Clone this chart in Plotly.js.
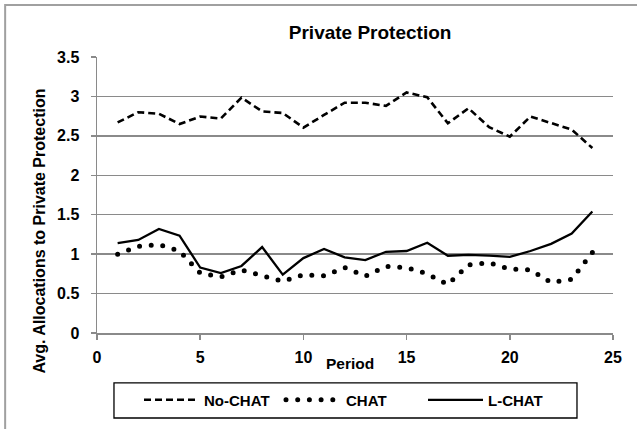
<!DOCTYPE html>
<html>
<head>
<meta charset="utf-8">
<script src="https://cdn.plot.ly/plotly-3.0.1.min.js"></script>
<style>
html,body{margin:0;padding:0;background:#fff;}
#chart{width:637px;height:429px;}
</style>
</head>
<body>
<div id="chart"></div>
<script>
const periods = [1,2,3,4,5,6,7,8,9,10,11,12,13,14,15,16,17,18,19,20,21,22,23,24];
const noChat = [2.67,2.80,2.78,2.65,2.745,2.72,2.985,2.81,2.79,2.605,2.765,2.92,2.92,2.88,3.05,2.99,2.66,2.85,2.61,2.49,2.745,2.66,2.58,2.345];
const chat = [1.00,1.10,1.12,1.04,0.76,0.71,0.80,0.73,0.655,0.74,0.725,0.83,0.72,0.845,0.83,0.75,0.615,0.865,0.89,0.81,0.80,0.64,0.68,1.02];
const lChat = [1.14,1.18,1.32,1.235,0.83,0.76,0.85,1.09,0.74,0.95,1.065,0.96,0.925,1.03,1.04,1.145,0.98,0.99,0.98,0.965,1.04,1.13,1.26,1.54];
const seriesNames = ['No-CHAT','CHAT','L-CHAT'];
const yTickVals = [0,0.5,1,1.5,2,2.5,3,3.5];
const yTickText = ['0','0.5','1','1.5','2','2.5','3','3.5'];
const xTickVals = [0,5,10,15,20,25];
const xTickText = ['0','5','10','15','20','25'];

const FONT = '"Liberation Sans", Arial, sans-serif';
const GRID = '#8a8a8a';

const traces = [
  {x: periods, y: noChat, name: seriesNames[0], mode: 'lines', type: 'scatter',
   line: {color: '#000', width: 2.6, dash: '7px,4px'}},
  {x: periods, y: chat, name: seriesNames[1], mode: 'lines', type: 'scatter',
   line: {color: '#000', width: 5, dash: '0px,11.7px'}},
  {x: periods, y: lChat, name: seriesNames[2], mode: 'lines', type: 'scatter',
   line: {color: '#000', width: 2.3}}
];

const layout = {
  width: 637, height: 429,
  margin: {l: 97, r: 24, t: 57, b: 96},
  paper_bgcolor: '#fff', plot_bgcolor: '#fff',
  font: {family: FONT, color: '#000', size: 15, weight: 700},
  title: {text: 'Private Protection', xref: 'container', x: 0.581, xanchor: 'center',
          yref: 'container', y: 0.925, yanchor: 'middle',
          font: {family: FONT, size: 19, weight: 700, color: '#000'}},
  showlegend: true,
  legend: {orientation: 'h', x: 0.0814, xanchor: 'left', y: -0.243, yanchor: 'middle',
           borderwidth: 0, bgcolor: 'rgba(0,0,0,0)',
           font: {family: FONT, size: 15, weight: 700, color: '#000'},
           itemwidth: 55, entrywidth: 72, entrywidthmode: 'pixels', traceorder: 'normal'},
  xaxis: {range: [0, 25], tickvals: xTickVals, ticktext: xTickText,
          showgrid: false, zeroline: false, showline: true, linecolor: GRID, linewidth: 1.5,
          ticks: 'outside', ticklen: 5, tickcolor: GRID, tickwidth: 1.5, ticklabelstandoff: 4,
          tickfont: {family: FONT, size: 16, weight: 700, color: '#000'}, fixedrange: true},
  yaxis: {range: [0, 3.5], tickvals: yTickVals, ticktext: yTickText,
          showgrid: true, gridcolor: GRID, gridwidth: 1.5, zeroline: false,
          showline: true, linecolor: GRID, linewidth: 1.5,
          ticks: 'outside', ticklen: 5, tickcolor: GRID, tickwidth: 1.5, ticklabelstandoff: 8,
          tickfont: {family: FONT, size: 16, weight: 700, color: '#000'}, fixedrange: true},
  annotations: [
    {text: 'Avg. Allocations to Private Protection', xref: 'paper', yref: 'paper',
     x: -0.111, y: 0.37, textangle: -90, showarrow: false, xanchor: 'center', yanchor: 'middle',
     font: {family: FONT, size: 16, weight: 700, color: '#000'}},
    {text: 'Period', xref: 'paper', yref: 'paper', x: 0.49, y: -0.109,
     showarrow: false, xanchor: 'center', yanchor: 'middle',
     font: {family: FONT, size: 15.5, weight: 700, color: '#000'}}
  ],
  shapes: [
    {type: 'rect', xref: 'paper', yref: 'paper', x0: -0.178, x1: 1.3, y0: -0.6, y1: 1.188,
     line: {color: '#a0a0a0', width: 2}, fillcolor: 'rgba(0,0,0,0)', layer: 'below'},
    {type: 'rect', xref: 'paper', yref: 'paper', x0: 0.0329, x1: 0.9302, y0: -0.308, y1: -0.181,
     line: {color: '#000', width: 1.3}, fillcolor: 'rgba(0,0,0,0)', layer: 'below'}
  ]
};

Plotly.newPlot('chart', traces, layout, {staticPlot: true, displayModeBar: false}).then(function(){
  document.querySelectorAll('path.js-line').forEach(function(p){
    var d = p.style.strokeDasharray || '';
    if (d.trim().indexOf('0') === 0) {
      p.style.strokeLinecap = 'round';
      try {
        var L = p.getTotalLength();
        if (L > 100) {
          var n = Math.max(1, Math.round(L / 11.7));
          p.style.strokeDasharray = '0px,' + (L / n) + 'px';
        }
      } catch (e) {}
    }
  });
});
</script>
</body>
</html>
